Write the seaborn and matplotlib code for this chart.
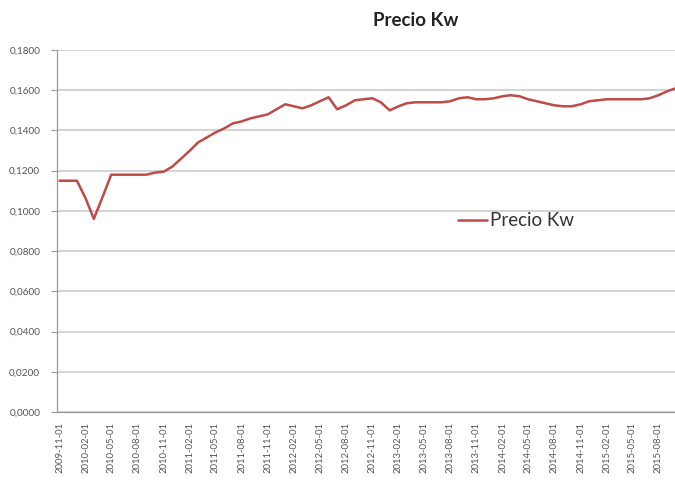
import matplotlib
matplotlib.use("Agg")
import matplotlib.pyplot as plt
import matplotlib.dates as mdates
from matplotlib.ticker import FuncFormatter
import numpy as np
import pandas as pd
import seaborn as sns

# monthly price per kW, 2009-11 .. 2015-10
months = pd.date_range("2009-11-01", periods=72, freq="MS")
precio_kw = [
    0.1150, 0.1150, 0.1150, 0.1060, 0.0960, 0.1070, 0.1180, 0.1180, 0.1180, 0.1180,
    0.1180, 0.1190, 0.1195, 0.1220, 0.1260, 0.1300, 0.1340, 0.1365, 0.1390, 0.1410,
    0.1435, 0.1445, 0.1460, 0.1470, 0.1480, 0.1505, 0.1530, 0.1520, 0.1510, 0.1525,
    0.1545, 0.1565, 0.1505, 0.1525, 0.1550, 0.1555, 0.1560, 0.1540, 0.1500, 0.1520,
    0.1535, 0.1540, 0.1540, 0.1540, 0.1540, 0.1545, 0.1560, 0.1565, 0.1555, 0.1555,
    0.1560, 0.1570, 0.1575, 0.1570, 0.1555, 0.1545, 0.1535, 0.1525, 0.1520, 0.1520,
    0.1530, 0.1545, 0.1550, 0.1555, 0.1555, 0.1555, 0.1555, 0.1555, 0.1560, 0.1575,
    0.1595, 0.1610,
]
series_name = "Precio Kw"
y_ticks = [0.0, 0.02, 0.04, 0.06, 0.08, 0.10, 0.12, 0.14, 0.16, 0.18]

df = pd.DataFrame({"fecha": months, series_name: precio_kw})

sns.set_style("white")
plt.rcParams["font.family"] = ["Lato", "DejaVu Sans"]

fig = plt.figure(figsize=(6.75, 4.86), dpi=100)
ax = fig.add_axes([57 / 675, 1 - 412 / 486, 1 - 57 / 675, (412 - 50) / 486])

sns.lineplot(data=df, x="fecha", y=series_name, color="#be4b48", linewidth=1.8,
             label=series_name, ax=ax)

ax.set_ylim(0, 0.18)
ax.set_yticks(y_ticks)
ax.yaxis.set_major_formatter(FuncFormatter(lambda v, _: f"{v:.4f}".replace(".", ",")))
ax.grid(axis="y", color="#cccccc", linewidth=1.2)
ax.grid(axis="x", visible=False)

ax.set_xlim(months[0] - pd.Timedelta(days=9), months[-1] - pd.Timedelta(days=3))
ax.xaxis.set_major_locator(mdates.MonthLocator(bymonth=[2, 5, 8, 11]))
ax.xaxis.set_major_formatter(mdates.DateFormatter("%Y-%m-%d"))
ax.xaxis.set_minor_locator(mdates.MonthLocator(bymonth=[1, 4, 7, 10], bymonthday=16))
ax.tick_params(axis="x", which="major", length=0, pad=7, labelsize=6.8,
               labelcolor="#555555", labelrotation=90)
ax.tick_params(axis="x", which="minor", length=3, color="#9a9a9a", width=0.8)
ax.tick_params(axis="y", length=4, color="#9a9a9a", width=0.8, pad=8,
               labelsize=7.2, labelcolor="#555555", left=True)
for lab in ax.get_xticklabels():
    lab.set_horizontalalignment("center")

ax.set_xlabel("")
ax.set_ylabel("")
sns.despine(ax=ax, top=True, right=True)
for side in ["left", "bottom"]:
    ax.spines[side].set_color("#9a9a9a")
    ax.spines[side].set_linewidth(0.9)

fig.text(416 / 675, 1 - 20 / 486, "Precio Kw", ha="center", va="center",
         fontsize=13.5, fontweight="bold", color="#222222")

ax.legend(loc="center left", bbox_to_anchor=(449 / 675, 1 - 221 / 486),
          bbox_transform=fig.transFigure, frameon=False, borderpad=0,
          handlelength=1.5, handletextpad=0.2, fontsize=13.5,
          labelcolor="#333333")

fig.savefig("out.png", dpi=100)
